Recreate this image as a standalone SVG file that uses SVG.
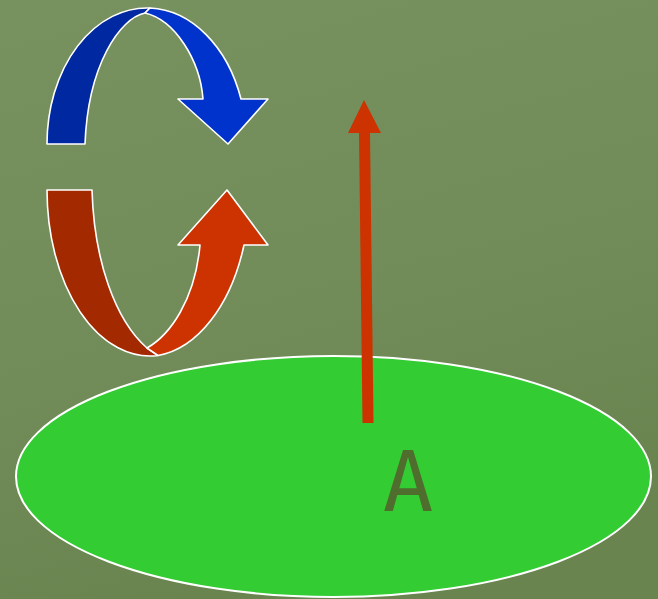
<svg xmlns="http://www.w3.org/2000/svg" width="658" height="599" viewBox="0 0 658 599">
  <defs>
    <linearGradient id="bg" x1="0" y1="0" x2="0.3" y2="1">
      <stop offset="0" stop-color="#77915f"/>
      <stop offset="0.6" stop-color="#728c59"/>
      <stop offset="1" stop-color="#6a8450"/>
    </linearGradient>
  </defs>
  <style>
    .band { stroke: #ffffff; stroke-width: 1.6; stroke-linejoin: round; }
    .blueBack { fill: #0028a0; }
    .blueFront { fill: #0033cc; }
    .redBack { fill: #a32900; }
    .redFront { fill: #cc3300; }
  </style>
  <rect x="0" y="0" width="658" height="599" fill="url(#bg)"/>

  <g id="plane">
    <ellipse cx="333.5" cy="476.5" rx="317.5" ry="120.5" fill="#33cc33" stroke="#ffffff" stroke-width="2"/>
  </g>

  <g id="blue-rotation">
    <path class="band blueBack" d="M 47,144 A 100 136 0 0 1 150,8 L 145,13 C 120,18 88,65 85,144 Z"/>
    <path class="band blueFront" d="M 150,8 A 100 136 0 0 1 241,99 L 268,99 L 228,144 L 178,99 L 203,99 C 200,60 175,20 145,13 Z"/>
  </g>

  <g id="red-rotation">
    <path class="band redBack" d="M 47,190 A 103 166 0 0 0 158,355.5 L 147,348 C 115,320 94,260 92,190 Z"/>
    <path class="band redFront" d="M 158,355.5 A 103 166 0 0 0 244,245 L 268,245 L 227,190 L 178,245 L 200,245 C 195,300 170,335 147,348 Z"/>
  </g>

  <g id="connectors">
    <path id="normal-arrow" d="M 362.5,423 L 373.5,423 L 370,133 L 381,133 L 364,100 L 348,133 L 359,133 Z" fill="#cc3300"/>
  </g>

  <g id="label-A">
    <text x="408" y="511" font-family="'DejaVu Sans Mono', monospace" font-size="84" fill="#4f6e2e" text-anchor="middle">A</text>
  </g>
</svg>
